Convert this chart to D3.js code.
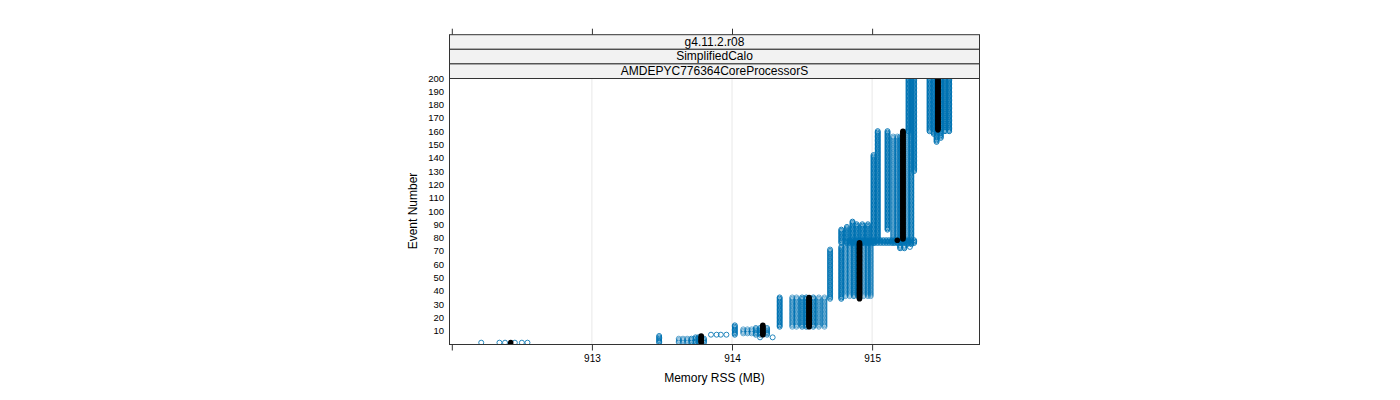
<!DOCTYPE html>
<html><head><meta charset="utf-8">
<script src="https://cdn.jsdelivr.net/npm/d3@7"></script>
<style>body{margin:0;background:#fff;} svg{display:block;font-family:"Liberation Sans",Arial,sans-serif;}</style>
</head><body>
<svg id="chart" width="1400" height="400"></svg>
<script>
// ---- data ----
const stripLabels = ["g4.11.2.r08", "SimplifiedCalo", "AMDEPYC776364CoreProcessorS"];
const xTicks = [912, 913, 914, 915];
const xTickLabels = ["", "913", "914", "915"];
const yTicks = [10, 20, 30, 40, 50, 60, 70, 80, 90, 100, 110, 120, 130, 140, 150, 160, 170, 180, 190, 200];
const xTitle = "Memory RSS (MB)";
const yTitle = "Event Number";

// runs of events held at one memory value: memory (MB), first event, last event, overlapping runs
const colMem   = [913.48,913.62,913.65,913.68,913.71,913.74,913.76,913.80,
                  914.02,914.08,914.11,914.14,914.17,914.20,914.25,
                  914.34,914.43,914.46,914.50,914.53,914.58,914.62,914.66,
                  914.70,914.78,914.81,914.84,914.87,914.90,914.94,914.97,914.99,
                  914.78,914.82,914.86,914.89,914.93,914.97,
                  915.01,915.04,915.11,915.15,915.18,915.20,915.25,915.28,915.30,915.26,915.20,915.23,
                  915.41,915.44,915.46,915.49,915.52,915.55];
const colStart = [1,1,1,1,1,1,1,1,
                  7,8,8,8,7,7,7,
                  13,13,13,13,13,13,13,13,
                  34,34,36,36,36,36,36,36,36,
                  76,76,76,76,76,76,
                  76,78,86,76,76,76,75,75,130,160,72,72,
                  160,158,152,155,160,160];
const colEnd   = [6,4,4,4,4,5,5,4,
                  14,11,11,11,12,12,12,
                  35,35,35,35,35,35,35,35,
                  71,73,77,77,77,77,77,77,77,
                  86,88,92,90,90,90,
                  142,160,160,156,156,156,160,200,200,200,74,74,
                  200,200,200,200,200,200];
const colRuns  = [3,1,1,1,2,2,3,2,
                  3,1,1,1,2,3,2,
                  3,1,1,2,3,2,1,1,
                  2,4,1,1,2,2,1,1,1,
                  3,3,4,4,3,3,
                  3,4,4,1,1,1,1,2,2,3,3,3,
                  4,4,4,4,4,4];

// band of events 76-78 spread over many memory values
const bandMem = [914.84,914.86,914.88,914.90,914.92,914.94,914.96,914.98,915.00,915.02,915.04,915.06,915.08,915.10,915.12,915.14,915.16,915.18,915.20,915.22,915.24,915.26,915.28,915.30];
const bandStart = 76, bandEnd = 78;

// isolated points: memory, event
const singleMem = [912.21,912.34,912.38,912.45,912.50,912.54,913.85,913.89,913.92,913.96,914.20,914.29,915.27];
const singleEv  = [1,1,1,1,1,1,7,7,7,7,5,5,73];

// median per event: memory, first event, last event
const medMem   = [912.42,913.78,914.22,914.55,914.91,915.18,915.22,915.47];
const medStart = [1,1,7,13,34,78,79,161];
const medEnd   = [1,6,14,35,76,78,160,200];

// ---- chart ----
const svg = d3.select("#chart");
const P = {l:449, r:980, t:78, b:344};
const x = d3.scaleLinear().domain([911.98, 915.77]).range([P.l, P.r]);
const y = d3.scaleLinear().domain([0, 200]).range([P.b, P.t]);
const blue = "#0072B2";

// grid
svg.append("g").selectAll("line").data(xTicks.slice(1)).join("line")
  .attr("x1", d=>x(d)).attr("x2", d=>x(d)).attr("y1", P.t).attr("y2", P.b)
  .attr("stroke", "#e8e8e8").attr("stroke-width", 1);

svg.append("clipPath").attr("id","pc").append("rect")
  .attr("x",P.l).attr("y",P.t).attr("width",P.r-P.l).attr("height",P.b-P.t);
const g = svg.append("g").attr("clip-path","url(#pc)");

const pts = [];
colMem.forEach((m,i)=>{
  for (let e=colStart[i]; e<=colEnd[i]; e++) pts.push({m, e, w:colRuns[i]});
});
bandMem.forEach(m=>{ for (let e=bandStart; e<=bandEnd; e++) pts.push({m, e, w:3}); });
singleMem.forEach((m,i)=>pts.push({m, e:singleEv[i], w:2}));

g.selectAll("circle.p").data(pts).join("circle").attr("class","p")
  .attr("cx", d=>x(d.m)).attr("cy", d=>y(d.e)).attr("r", 2.5)
  .attr("fill","none").attr("stroke", blue).attr("stroke-width", 1)
  .attr("stroke-opacity", d=>1-Math.pow(0.4, d.w));

const med = [];
medMem.forEach((m,i)=>{ for (let e=medStart[i]; e<=medEnd[i]; e++) med.push({m,e}); });
g.selectAll("circle.m").data(med).join("circle").attr("class","m")
  .attr("cx", d=>x(d.m)).attr("cy", d=>y(d.e)).attr("r", 2.8).attr("fill","#000");

// panel border
svg.append("rect").attr("x",P.l+0.5).attr("y",P.t+0.5).attr("width",P.r-P.l-1).attr("height",P.b-P.t)
  .attr("fill","none").attr("stroke","#333").attr("stroke-width",1);

// strips
const stripH = 14.6;
stripLabels.forEach((s,i)=>{
  const top = P.t - (stripLabels.length - i)*stripH;
  svg.append("rect").attr("x",P.l+0.5).attr("y",top+0.5).attr("width",P.r-P.l-1).attr("height",stripH)
    .attr("fill","#f2f2f2").attr("stroke","#333").attr("stroke-width",1);
  svg.append("text").attr("x",(P.l+P.r)/2).attr("y",top+stripH/2+4.3).attr("text-anchor","middle")
    .attr("font-size",12).attr("fill","#000").text(s);
});
const stripTop = P.t - stripLabels.length*stripH;

// x axis bottom
const xAxisB = d3.axisBottom(x).tickValues(xTicks).tickFormat((d,i)=>xTickLabels[i]).tickSize(6).tickPadding(4);
const gxb = svg.append("g").attr("transform",`translate(0,${P.b+0.5})`).call(xAxisB);
gxb.select(".domain").remove();
gxb.selectAll("line").attr("stroke","#333");
gxb.selectAll("text").attr("font-size",10).attr("fill","#000").attr("font-family","Liberation Sans, Arial, sans-serif");
// x axis top (ticks only)
const xAxisT = d3.axisTop(x).tickValues(xTicks).tickFormat("").tickSize(6);
const gxt = svg.append("g").attr("transform",`translate(0,${stripTop+0.5})`).call(xAxisT);
gxt.select(".domain").remove();
gxt.selectAll("line").attr("stroke","#333");

// y axis labels
const yAxis = d3.axisLeft(y).tickValues(yTicks).tickSize(0).tickPadding(5);
const gy = svg.append("g").attr("transform",`translate(${P.l},0)`).call(yAxis);
gy.select(".domain").remove();
gy.selectAll("text").attr("font-size",9.5).attr("fill","#000").attr("font-family","Liberation Sans, Arial, sans-serif");

// titles
svg.append("text").attr("x",(P.l+P.r)/2).attr("y",382).attr("text-anchor","middle").attr("font-size",12).text(xTitle);
svg.append("text").attr("transform",`translate(417,${(P.t+P.b)/2}) rotate(-90)`).attr("text-anchor","middle")
  .attr("font-size",12).text(yTitle);
</script>
</body></html>
